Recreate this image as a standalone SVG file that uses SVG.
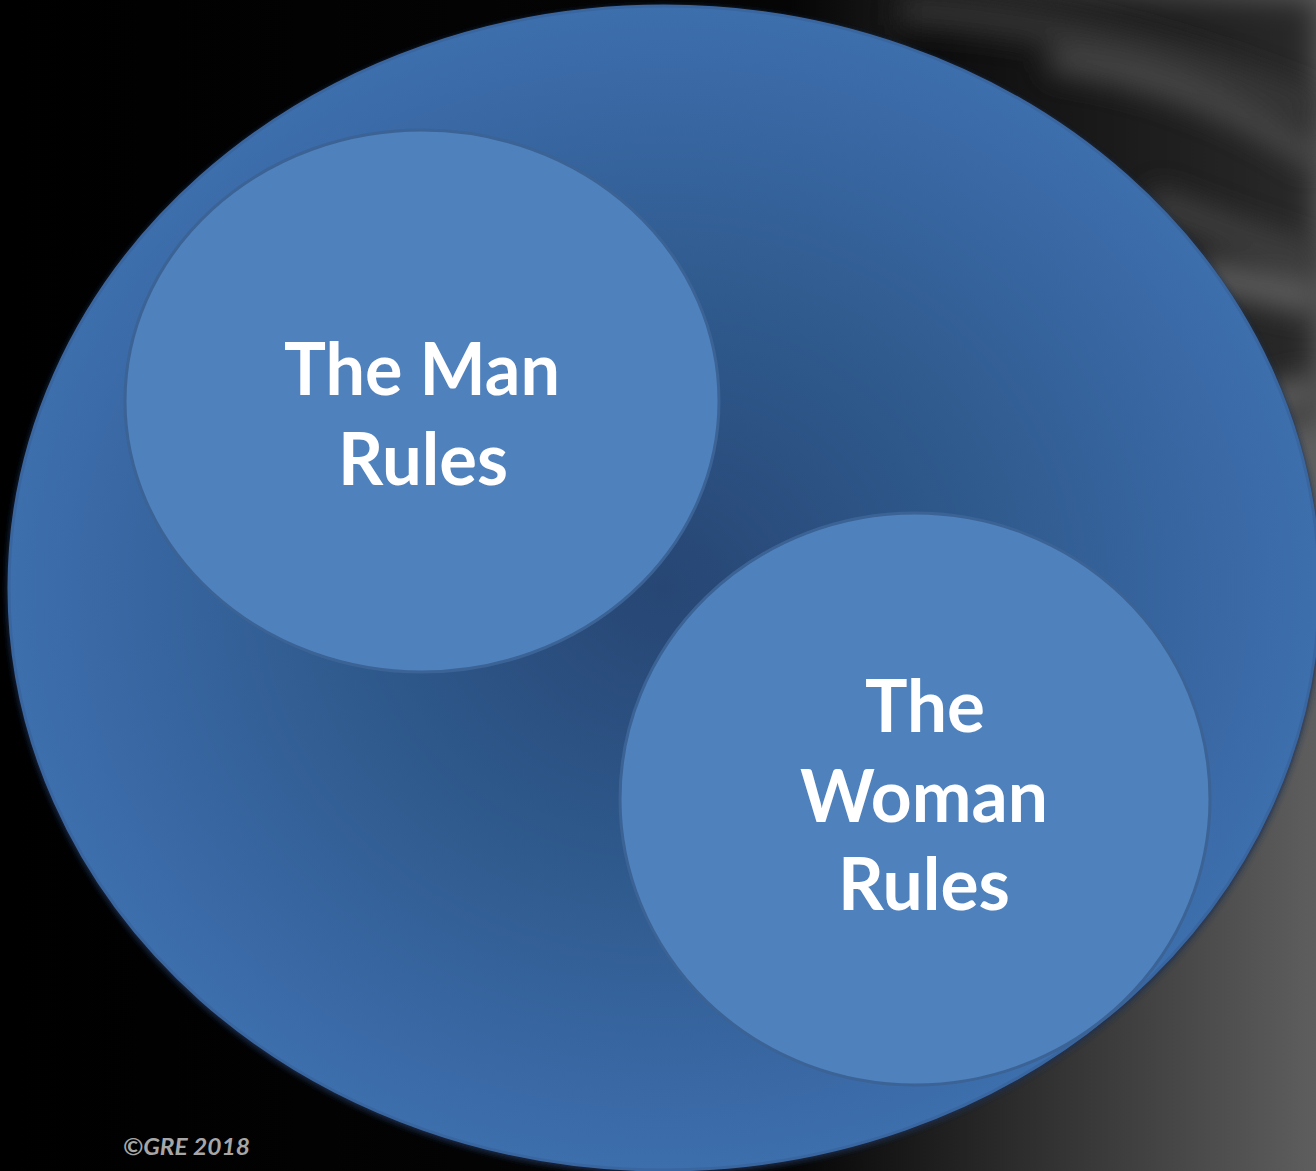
<svg xmlns="http://www.w3.org/2000/svg" width="1316" height="1171" viewBox="0 0 1316 1171">
<style>
.lbl{font-family:Lato,"Open Sans","Liberation Sans",sans-serif;font-weight:700;font-size:72px;fill:#ffffff;text-anchor:middle}
.inner{fill:#4f81bd;stroke:#3b6395;stroke-width:3}
.copy{font-family:Lato,"Open Sans","Liberation Sans",sans-serif;font-style:italic;font-weight:700;font-size:22px;fill:#a6a6a6}
</style>
<defs>
<linearGradient id="bg" x1="0" y1="0" x2="1" y2="0">
<stop offset="0" stop-color="#000"/>
<stop offset="0.6" stop-color="#050505"/>
<stop offset="0.78" stop-color="#2e2e2e"/>
<stop offset="1" stop-color="#5e5e5e"/>
</linearGradient>
<radialGradient id="big" cx="0.5" cy="0.5" r="0.55">
<stop offset="0" stop-color="#274674"/>
<stop offset="0.45" stop-color="#2f5a8d"/>
<stop offset="0.8" stop-color="#3a69a6"/>
<stop offset="1" stop-color="#4074b3"/>
</radialGradient>
<filter id="blur" x="-20%" y="-50%" width="140%" height="200%"><feGaussianBlur stdDeviation="14"/></filter>
<filter id="sh" x="-5%" y="-5%" width="110%" height="110%"><feGaussianBlur stdDeviation="3"/></filter>
</defs>
<rect width="1316" height="1171" fill="url(#bg)"/>
<rect x="900" y="0" width="416" height="420" fill="#000" opacity="0.55" filter="url(#blur)"/>
<g filter="url(#blur)" opacity="0.85">
<path d="M900 10 Q1100 20 1316 110" stroke="#3a3a3a" stroke-width="30" fill="none"/>
<path d="M1050 60 Q1200 80 1316 160" stroke="#555" stroke-width="22" fill="none"/>
<path d="M1150 200 Q1250 240 1316 260" stroke="#444" stroke-width="30" fill="none"/>
<path d="M1200 275 Q1280 290 1316 300" stroke="#6a6a6a" stroke-width="30" fill="none"/>
<path d="M1260 405 Q1290 395 1316 390" stroke="#6a6a6a" stroke-width="30" fill="none"/>
</g>
<g id="outer">
<ellipse cx="664" cy="590" rx="657" ry="584" fill="#1a2f4f" filter="url(#sh)"/>
<ellipse cx="664" cy="588" rx="655" ry="582" fill="url(#big)" stroke="#3a66a0" stroke-width="3"/>
</g>
<g id="man">
<ellipse class="inner" cx="422" cy="401" rx="297" ry="271"/>
<text class="lbl" x="422" y="395" textLength="276" lengthAdjust="spacingAndGlyphs">The Man</text>
<text class="lbl" x="423" y="485" textLength="170" lengthAdjust="spacingAndGlyphs">Rules</text>
</g>
<g id="woman">
<ellipse class="inner" cx="915" cy="799" rx="295" ry="286"/>
<text class="lbl" x="925" y="732" textLength="120" lengthAdjust="spacingAndGlyphs">The</text>
<text class="lbl" x="924" y="822" textLength="248" lengthAdjust="spacingAndGlyphs">Woman</text>
<text class="lbl" x="924" y="910" textLength="172" lengthAdjust="spacingAndGlyphs">Rules</text>
</g>
<g id="connectors"/>
<text class="copy" x="123" y="1155" textLength="127" lengthAdjust="spacingAndGlyphs">©GRE 2018</text>
</svg>
